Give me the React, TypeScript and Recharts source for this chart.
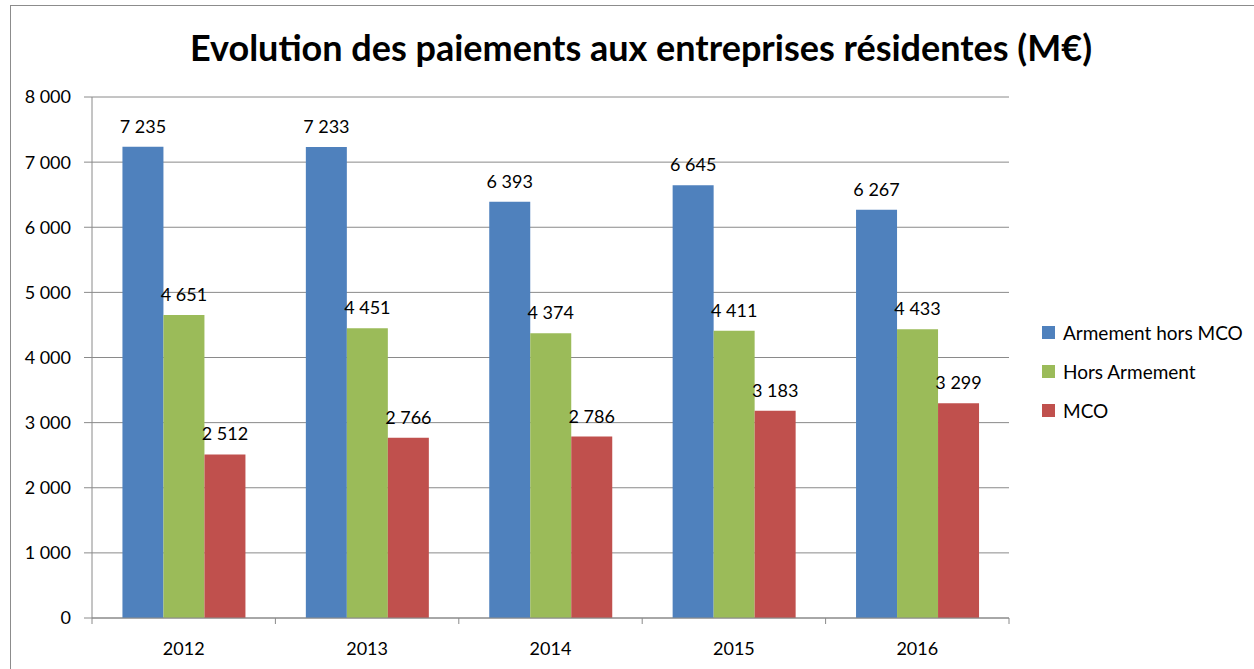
import { BarChart, Bar, XAxis, YAxis, CartesianGrid, LabelList } from 'recharts'

const years = ['2012', '2013', '2014', '2015', '2016']
const armement = [7235, 7233, 6393, 6645, 6267]
const horsArmement = [4651, 4451, 4374, 4411, 4433]
const mco = [2512, 2766, 2786, 3183, 3299]
const yTicks = [0, 1000, 2000, 3000, 4000, 5000, 6000, 7000, 8000]

const series = [
  { key: 'armement', name: 'Armement hors MCO', color: '#4F81BD' },
  { key: 'horsArmement', name: 'Hors Armement', color: '#9BBB59' },
  { key: 'mco', name: 'MCO', color: '#C0504D' },
]

const data = years.map((year, i) => ({
  year,
  armement: armement[i],
  horsArmement: horsArmement[i],
  mco: mco[i],
}))

const FONT = 'Lato, "Open Sans", sans-serif'
const GRID = '#8a8a8a'

// thousands with a no-break space so labels never wrap
const fmt = (v: number) => String(v).replace(/\B(?=(\d{3})+(?!\d))/g, '\u00a0')

// category ticks: label in the middle, tick marks on the band edges
function YearTick(props: any) {
  const { x, y, payload, index, visibleTicksCount } = props
  const axisY = y - 24
  const half = payload.offset || 0
  return (
    <g>
      <line x1={x - half} x2={x - half} y1={axisY} y2={axisY + 6} stroke={GRID} />
      {index === visibleTicksCount - 1 && (
        <line x1={x + half} x2={x + half} y1={axisY} y2={axisY + 6} stroke={GRID} />
      )}
      <text x={x} y={y} dy="0.71em" textAnchor="middle" fill="#000" fontSize={18} fontFamily={FONT}>
        {payload.value}
      </text>
    </g>
  )
}

export default function App() {
  return (
    <div style={{ position: 'relative', width: 1254, height: 669, background: '#fff', overflow: 'hidden' }}>
      <style>{'body{margin:0}'}</style>
      <div
        style={{
          position: 'absolute',
          left: 10,
          top: 5,
          right: -2,
          bottom: -2,
          borderTop: '1.5px solid #8c8c8c',
          borderLeft: '1.5px solid #8c8c8c',
        }}
      />
      <div
        style={{
          position: 'absolute',
          top: 25,
          left: 10,
          width: 1262,
          textAlign: 'center',
          fontFamily: FONT,
          fontWeight: 700,
          fontSize: 36,
          color: '#000',
        }}
      >
        Evolution des paiements aux entreprises résidentes (M€)
      </div>
      <BarChart
        width={1254}
        height={669}
        data={data}
        margin={{ top: 97, right: 245, bottom: 21, left: 12 }}
        barCategoryGap="16.6%"
        barGap={0}
        style={{ position: 'absolute', left: 0, top: 0 }}
      >
        <CartesianGrid vertical={false} stroke={GRID} />
        <XAxis
          dataKey="year"
          height={30}
          tickLine={false}
          tickSize={6}
          tickMargin={18}
          axisLine={{ stroke: GRID }}
          tick={<YearTick />}
          interval={0}
        />
        <YAxis
          width={80}
          domain={[0, 8000]}
          ticks={yTicks}
          tickFormatter={fmt}
          tickSize={8}
          tickMargin={13}
          axisLine={{ stroke: GRID }}
          tickLine={{ stroke: GRID }}
          tick={{ fill: '#000', fontSize: 18, fontFamily: FONT }}
          interval={0}
        />
        {series.map((s) => (
          <Bar key={s.key} dataKey={s.key} name={s.name} fill={s.color} isAnimationActive={false}>
            <LabelList
              dataKey={s.key}
              position="top"
              offset={14}
              formatter={(v: any) => fmt(Number(v))}
              style={{ fill: '#000', fontSize: 18, fontFamily: FONT }}
            />
          </Bar>
        ))}
      </BarChart>
      <div style={{ position: 'absolute', left: 1042, top: 313, fontFamily: FONT, fontSize: 19, color: '#000' }}>
        {series.map((s) => (
          <div key={s.key} style={{ display: 'flex', alignItems: 'center', height: 39, whiteSpace: 'nowrap' }}>
            <span style={{ width: 13, height: 13, background: s.color, marginRight: 8, display: 'inline-block' }} />
            <span>{s.name}</span>
          </div>
        ))}
      </div>
    </div>
  )
}
